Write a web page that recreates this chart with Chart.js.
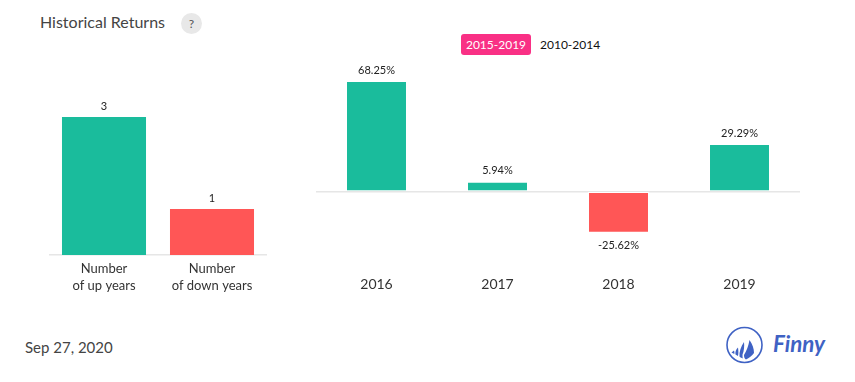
<!DOCTYPE html>
<html><head><meta charset="utf-8">
<script src="https://cdn.jsdelivr.net/npm/chart.js@4"></script>
<style>
html,body{margin:0;padding:0;background:#fff;width:855px;height:382px;overflow:hidden;position:relative;font-family:Lato,sans-serif}
canvas{position:absolute}
.t{position:absolute;white-space:nowrap}
</style></head><body>
<div class="t" style="left:40px;top:12px;font-size:16px;line-height:20px;color:#444">Historical Returns</div>
<div class="t" style="left:181px;top:13px;width:21px;height:21px;border-radius:50%;background:#e8e8e8;color:#555;font-size:12px;line-height:21px;text-align:center">?</div>
<div class="t" style="left:461px;top:34px;width:70px;height:21px;border-radius:3px;background:#f93085;color:#fff;font-size:12px;line-height:21px;text-align:center">2015-2019</div>
<div class="t" style="left:540px;top:34px;height:21px;color:#111;font-size:12px;line-height:21px">2010-2014</div>
<div class="t" style="left:25px;top:337px;font-size:15px;line-height:20px;color:#444">Sep 27, 2020</div>
<svg class="t" style="left:724px;top:326px" width="110" height="42" viewBox="0 0 110 42">
<circle cx="20.5" cy="19" r="17.5" fill="none" stroke="#3f62c4" stroke-width="1.6"/>
<path d="M25.5 14 C28.5 18 30 23 30 27 C28 30 25 32 22 33.5 C20.5 32.5 20 31 20 29 C22.5 25 24.5 20 25.5 14Z M20 16 C20.5 20 20 25 18.5 28.5 C18.5 30.5 18.5 31.5 19 32.5 C17.5 32 16.5 31.5 15.5 30.5 C15 26 17 20.5 20 16Z M14 21.5 C14.5 25 14.5 27.5 14 30 C13 29.5 12.3 29 11.5 28.5 C11 26 12 23.5 14 21.5Z M10 24.5 C10.5 26 10.5 27 10.3 28 C9.3 27.5 8.5 27 7.5 26.5 C8.3 26 9.2 25.3 10 24.5Z" fill="#3f62c4"/>
<text x="49" y="26" font-family="'Lato',sans-serif" font-style="italic" font-weight="700" font-size="22" fill="#3f62c4" textLength="52" lengthAdjust="spacingAndGlyphs">Finny</text>
</svg>
<canvas id="left" width="300" height="256" style="left:0;top:40px;width:300px;height:256px"></canvas>
<canvas id="right" width="530" height="255" style="left:300px;top:40px;width:530px;height:255px"></canvas>
<script>
const countLabels = [["Number","of up years"],["Number","of down years"]];
const countValues = [3, 1];
const countColors = ["#1abc9c", "#ff5656"];
const years = ["2016","2017","2018","2019"];
const returns = [68.25, 5.94, -25.62, 29.29];
const returnColors = ["#1abc9c","#1abc9c","#ff5656","#1abc9c"];
const GREY = "#e6e6e6";

const valueLabels = fmt => ({
  id: "valueLabels",
  afterDatasetsDraw(chart) {
    const c = chart.ctx, meta = chart.getDatasetMeta(0), data = chart.data.datasets[0].data;
    c.save();
    c.font = "11px Lato, sans-serif";
    c.fillStyle = "#222";
    c.textAlign = "center";
    meta.data.forEach((b, i) => {
      const neg = data[i] < 0;
      c.textBaseline = "middle";
      c.fillText(fmt(data[i]), b.x, neg ? b.y + 13 : b.y - 11);
    });
    c.restore();
  }
});

new Chart(document.getElementById("left"), {
  type: "bar",
  data: {labels: countLabels, datasets: [{data: countValues, backgroundColor: countColors, barPercentage: 1, categoryPercentage: 0.778}]},
  options: {
    responsive: false, animation: false,
    layout: {padding: {left: 50, right: 34, top: 54, bottom: 0}},
    plugins: {legend: {display: false}, tooltip: {enabled: false}},
    scales: {
      x: {afterFit(s){ s.height = 41; }, grid: {display: false}, border: {color: GREY, width: 1.5},
          ticks: {color: "#333", font: {family: "Lato", size: 13, lineHeight: 1.3}, padding: -3, maxRotation: 0, autoSkip: false}},
      y: {display: false, min: 0, max: 3.5}
    }
  },
  plugins: [valueLabels(v => String(v))]
});

new Chart(document.getElementById("right"), {
  type: "bar",
  data: {labels: years, datasets: [{data: returns, backgroundColor: returnColors, borderColor: "#fff", borderWidth: 1,
    borderSkipped: ctx => ctx.raw < 0 ? false : "start", barPercentage: 1, categoryPercentage: 0.504}]},
  options: {
    responsive: false, animation: false,
    layout: {padding: {left: 16, right: 30, top: 10, bottom: 0}},
    plugins: {legend: {display: false}, tooltip: {enabled: false}},
    scales: {
      x: {afterFit(s){ s.height = 23; }, grid: {display: false}, border: {display: false},
          ticks: {color: "#333", font: {family: "Lato", size: 14}, padding: -4, maxRotation: 0}},
      y: {display: true, min: -50, max: 87.5,
          afterFit(s){ s.width = 0; },
          border: {display: false},
          ticks: {display: false, stepSize: 12.5},
          grid: {drawTicks: false, lineWidth: 1.5, color: ctx => ctx.tick && ctx.tick.value === 0 ? GREY : "rgba(0,0,0,0)"}}
    }
  },
  plugins: [valueLabels(v => v.toFixed(2) + "%")]
});
</script>
</body></html>
